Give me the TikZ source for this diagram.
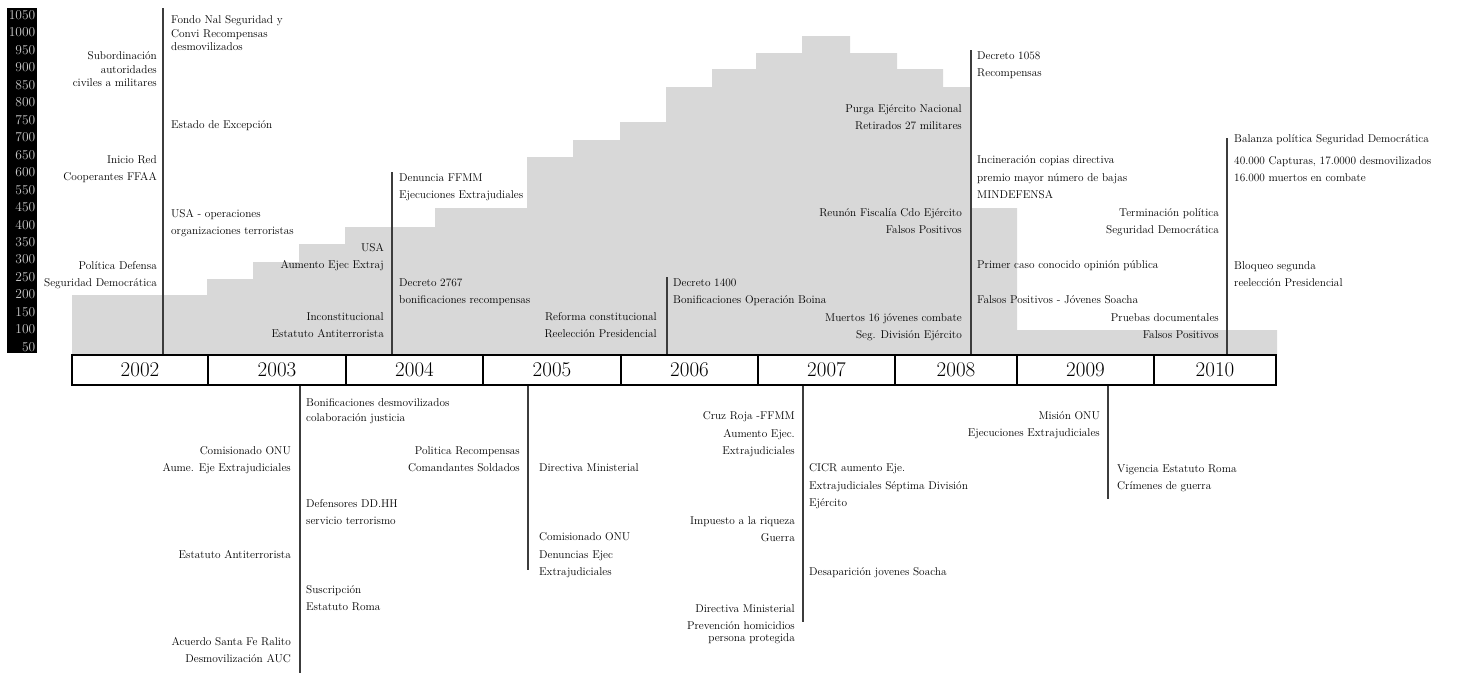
\documentclass[tikz,border=0pt]{standalone}
\usepackage{fontspec}
\begin{document}
\begin{tikzpicture}[x=1pt,y=-1pt,
    evt/.style={inner sep=0pt,font=\fontsize{11.3}{17.5}\selectfont},
    evtleft/.style={evt,anchor=base east,align=right},
    evtright/.style={evt,anchor=base west,align=left},
    yearcell/.style={draw,line width=1.1pt,minimum height=30pt,inner sep=0pt,font=\fontsize{21}{21}\selectfont},
    evtline/.style={draw=linegray,line width=1.2pt}]
    % Define colors
    \definecolor{shadegray}{RGB}{216,216,216}
    \definecolor{linegray}{RGB}{60,60,60}
    \definecolor{axisnum}{RGB}{205,205,205}

    \useasboundingbox (0,0) rectangle (1457,678);

    % Draw axis column
    \fill[black] (7,8) rectangle (37,353);
    \foreach \v [count=\i from 0] in {1050,1000,950,900,850,800,750,700,650,600,550,450,400,350,300,250,200,150,100,50}
        \node[anchor=east,inner sep=0pt,text=axisnum,font=\fontsize{13.5}{13.5}\selectfont] (ax\v) at (35.5,{15+\i*17.47}) {\v};

    % Draw shaded steps
    \fill[shadegray] (72,355) -- (72,295) -- (207,295) -- (207,279) -- (253,279) -- (253,262) -- (299,262)
        -- (299,244) -- (345,244) -- (345,227) -- (435,227) -- (435,208) -- (527,208) -- (527,157)
        -- (573,157) -- (573,140) -- (620,140) -- (620,122) -- (666,122) -- (666,87) -- (712,87)
        -- (712,69) -- (756,69) -- (756,53) -- (802,53) -- (802,36) -- (850,36) -- (850,53) -- (897,53)
        -- (897,69) -- (943,69) -- (943,87) -- (971,87) -- (971,208) -- (1017,208) -- (1017,330)
        -- (1277,330) -- (1277,355) -- cycle;

    % Draw year bar
    \foreach \xl/\xr/\yr in {72/208/2002,208/346/2003,346/483/2004,483/621/2005,621/758/2006,758/895/2007,895/1017/2008,1017/1154/2009,1154/1276/2010}
        \node[yearcell,minimum width=\xr-\xl] (y\yr) at ({(\xl+\xr)/2},370) {\yr};

    % Draw event lines above
    \coordinate (topA) at (163,8);
    \coordinate (topB) at (392,172);
    \coordinate (topC) at (667,277);
    \coordinate (topD) at (971,50);
    \coordinate (topE) at (1227,138);
    \draw[evtline] (topA) -- (topA |- y2002.north);
    \draw[evtline] (topB) -- (topB |- y2004.north);
    \draw[evtline] (topC) -- (topC |- y2006.north);
    \draw[evtline] (topD) -- (topD |- y2008.north);
    \draw[evtline] (topE) -- (topE |- y2010.north);

    % Draw event lines below
    \coordinate (botF) at (300,673);
    \coordinate (botG) at (528,570);
    \coordinate (botH) at (803,622);
    \coordinate (botI) at (1108,499);
    \draw[evtline] (y2003.south -| botF) -- (botF);
    \draw[evtline] (y2005.south -| botG) -- (botG);
    \draw[evtline] (y2007.south -| botH) -- (botH);
    \draw[evtline] (y2009.south -| botI) -- (botI);

    % Add texts 2002
    \node[evtleft] (subord) at (157,86.7) {Subordinación\\[-4pt]autoridades\\[-4pt]civiles a militares};
    \node[evtleft] (inicio) at (157,180.7) {Inicio Red\\Cooperantes FFAA};
    \node[evtleft] (politica) at (157,286.7) {Política Defensa\\Seguridad Democrática};
    \node[evtright] (fondo) at (171,50.7) {Fondo Nal Seguridad y\\[-4pt]Convi Recompensas\\[-4pt]desmovilizados};
    \node[evtright] (estado) at (171,128.7) {Estado de Excepción};
    \node[evtright] (usaop) at (171,234.7) {USA - operaciones\\organizaciones terroristas};

    % Add texts 2004
    \node[evtleft] (usa) at (384,268.7) {USA\\Aumento Ejec Extraj};
    \node[evtleft] (incons) at (384,337.7) {Inconstitucional\\Estatuto Antiterrorista};
    \node[evtright] (denuncia) at (399,198.7) {Denuncia FFMM\\Ejecuciones Extrajudiales};
    \node[evtright] (dec2767) at (399,303.7) {Decreto 2767\\bonificaciones recompensas};

    % Add texts 2006
    \node[evtleft] (reforma) at (657,337.7) {Reforma constitucional\\Reelección Presidencial};
    \node[evtright] (dec1400) at (673,303.7) {Decreto 1400\\Bonificaciones Operación Boina};

    % Add texts 2008
    \node[evtleft] (purga) at (962,129.7) {Purga Ejército Nacional\\Retirados 27 militares};
    \node[evtleft] (reunon) at (962,233.7) {Reunón Fiscalía Cdo Ejército\\Falsos Positivos};
    \node[evtleft] (muertos) at (962,338.7) {Muertos 16 jóvenes combate\\Seg. División Ejército};
    \node[evtright] (dec1058) at (977,76.7) {Decreto 1058\\Recompensas};
    \node[evtright] (inciner) at (977,198.7) {Incineración copias directiva\\premio mayor número de bajas\\MINDEFENSA};
    \node[evtright] (primer) at (977,268.7) {Primer caso conocido opinión pública};
    \node[evtright] (soacha) at (977,303.7) {Falsos Positivos - Jóvenes Soacha};

    % Add texts 2010
    \node[evtleft] (termin) at (1219,233.7) {Terminación política\\Seguridad Democrática};
    \node[evtleft] (pruebas) at (1219,338.7) {Pruebas documentales\\Falsos Positivos};
    \node[evtright] (balanza) at (1234,181.7) {Balanza política Seguridad Democrática\\[4.5pt]40.000 Capturas, 17.0000 desmovilizados\\16.000 muertos en combate};
    \node[evtright] (bloqueo) at (1234,286.7) {Bloqueo segunda\\reelección Presidencial};

    % Add texts 2003
    \node[evtleft] (comis) at (291,471.7) {Comisionado ONU\\Aume. Eje Extrajudiciales};
    \node[evtleft] (estatuto) at (291,558.7) {Estatuto Antiterrorista};
    \node[evtleft] (acuerdo) at (291,662.7) {Acuerdo Santa Fe Ralito\\Desmovilización AUC};
    \node[evtright] (bonif) at (306,421.7) {Bonificaciones desmovilizados\\[-2pt]colaboración justicia};
    \node[evtright] (defens) at (306,524.7) {Defensores DD.HH\\servicio terrorismo};
    \node[evtright] (suscrip) at (306,610.7) {Suscripción\\Estatuto Roma};

    % Add texts 2005
    \node[evtleft] (polrec) at (520,471.7) {Politica Recompensas\\Comandantes Soldados};
    \node[evtright] (direct) at (539,471.7) {Directiva Ministerial};
    \node[evtright] (comisb) at (539,575.7) {Comisionado ONU\\Denuncias Ejec\\Extrajudiciales};

    % Add texts 2007
    \node[evtleft] (cruz) at (795,454.7) {Cruz Roja -FFMM\\Aumento Ejec.\\Extrajudiciales};
    \node[evtleft] (impuesto) at (795,541.7) {Impuesto a la riqueza\\Guerra};
    \node[evtleft] (directb) at (795,641.7) {Directiva Ministerial\\Prevención homicidios\\[-5.5pt]persona protegida};
    \node[evtright] (cicr) at (809,506.7) {CICR aumento Eje.\\Extrajudiciales Séptima División\\Ejército};
    \node[evtright] (desap) at (809,575.7) {Desaparición jovenes Soacha};

    % Add texts 2009
    \node[evtleft] (mision) at (1100,436.7) {Misión ONU\\Ejecuciones Extrajudiciales};
    \node[evtright] (vigencia) at (1117,489.7) {Vigencia Estatuto Roma\\Crímenes de guerra};
\end{tikzpicture}
\end{document}
